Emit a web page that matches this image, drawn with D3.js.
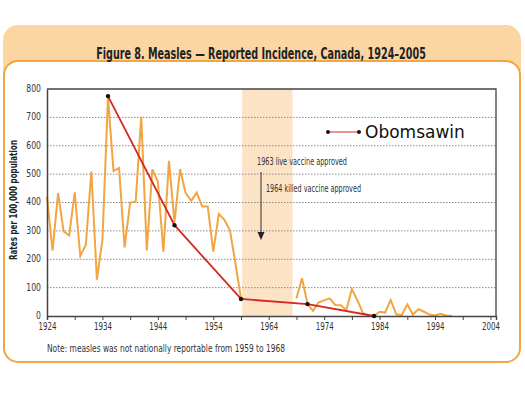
<!DOCTYPE html>
<html>
<head>
<meta charset="utf-8">
<script src="https://cdn.jsdelivr.net/npm/d3@7"></script>
<style>
  body { margin: 0; background: #fff; }
  svg { display: block; }
  .narrow { font-family: "Liberation Sans Narrow", "DejaVu Sans Condensed", "Arial Narrow", sans-serif; }
</style>
</head>
<body>
<div id="chart-area"></div>
<script>
var width = 525,
	height = 393;

// measles rates per 100,000, reportable years only
var years1 = [1924,1925,1926,1927,1928,1929,1930,1931,1932,1933,1934,1935,1936,1937,1938,1939,1940,
	1941,1942,1943,1944,1945,1946,1947,1948,1949,1950,1951,1952,1953,1954,1955,1956,1957,1958,1959];
var rates1 = [421,230,433,298,284,436,212,250,509,128,268,770,511,521,242,400,403,
	703,231,517,474,227,547,330,518,434,406,435,386,386,227,360,339,302,185,62];

var years2 = [1969,1970,1971,1972,1973,1974,1975,1976,1977,1978,1979,1980,1981,1982,1983,1984,1985,
	1986,1987,1988,1989,1990,1991,1992,1993,1994,1995,1996,1997];
var rates2 = [62,133,42,18,48,55,62,39,38,21,95,55,10,2,0,15,12,
	56,6,3,41,5,24,15,5,2,8,2,1];

// Obomsawin series
var obYears = [1935,1947,1959,1971,1983];
var obRates = [775,320,60,42,0];

var yTicks = [0,100,200,300,400,500,600,700,800];
var xTickYears = d3.range(1924, 2005, 5);
var xLabelYears = [1924,1934,1944,1954,1964,1974,1984,1994,2004];
var gapYears = [1959.2, 1968.3];

var margin = {top: 89, right: 29, bottom: 77, left: 47};

var svg = d3.select("#chart-area").append("svg")
	.attr("width", width)
	.attr("height", height);

var orange = "#f2a540";
var fontNarrow = "Liberation Sans Narrow, DejaVu Sans Condensed, sans-serif";

// squeeze a text to the width it has in the picture
function fit(sel, w) {
	sel.attr("textLength", w).attr("lengthAdjust", "spacingAndGlyphs");
}

// frame
svg.append("rect")
	.attr("x", 3).attr("y", 25)
	.attr("width", 518).attr("height", 60)
	.attr("rx", 15)
	.attr("fill", "#fcd6a2");

svg.append("rect")
	.attr("x", 4).attr("y", 61)
	.attr("width", 516).attr("height", 301)
	.attr("rx", 14)
	.attr("fill", "#fff")
	.attr("stroke", orange)
	.attr("stroke-width", 2);

// title, squeezed horizontally
var title = svg.append("text")
	.attr("class", "narrow")
	.attr("x", 0).attr("y", 0)
	.attr("text-anchor", "middle")
	.attr("font-size", 16)
	.attr("font-weight", "bold")
	.attr("fill", "#222")
	.text("Figure 8. Measles \u2014 Reported Incidence, Canada, 1924\u20132005");
var tw = title.node().getComputedTextLength();
title.attr("transform", "translate(261,59) scale(" + (330 / tw) + ",1)");

var x = d3.scaleLinear()
	.domain([1924, 2005])
	.range([margin.left, width - margin.right]);

var y = d3.scaleLinear()
	.domain([0, 800])
	.range([height - margin.bottom, margin.top]);

// not reportable band
svg.append("rect")
	.attr("x", x(gapYears[0]))
	.attr("y", y(800))
	.attr("width", x(gapYears[1]) - x(gapYears[0]))
	.attr("height", y(0) - y(800))
	.attr("fill", "#fde3c6");

// dotted grid
svg.selectAll(".grid")
	.data(yTicks.filter(function(d){ return d > 0 && d < 800; }))
	.enter().append("line")
	.attr("class", "grid")
	.attr("x1", x(1924)).attr("x2", x(2005))
	.attr("y1", function(d){ return y(d); })
	.attr("y2", function(d){ return y(d); })
	.attr("stroke", "#8a8a8a")
	.attr("stroke-width", 1)
	.attr("stroke-dasharray", "1.5,1.5");

// top and right border
svg.append("path")
	.attr("d", "M" + x(1924) + "," + y(800) + "H" + x(2005) + "V" + y(0))
	.attr("fill", "none")
	.attr("stroke", "#444")
	.attr("stroke-width", 1.3);

var line = d3.line()
	.x(function(d){ return x(d[0]); })
	.y(function(d){ return y(d[1]); });

svg.append("path")
	.datum(d3.zip(years1, rates1))
	.attr("d", line)
	.attr("fill", "none")
	.attr("stroke", orange)
	.attr("stroke-width", 2);

svg.append("path")
	.datum(d3.zip(years2, rates2))
	.attr("d", line)
	.attr("fill", "none")
	.attr("stroke", orange)
	.attr("stroke-width", 2);

// axes
var xAxis = d3.axisBottom(x)
	.tickValues(xTickYears)
	.tickSize(4)
	.tickPadding(3)
	.tickFormat(function(d){ return xLabelYears.indexOf(d) >= 0 ? d : ""; });

var gx = svg.append("g")
	.attr("transform", "translate(0," + y(0) + ")")
	.call(xAxis);
gx.select(".domain").attr("stroke", "#444").attr("stroke-width", 1.5);
gx.selectAll(".tick line").attr("stroke", "#444");
gx.selectAll("text")
	.attr("font-size", 10.5)
	.attr("fill", "#333")
	.attr("font-family", fontNarrow)
	.filter(function(d){ return xLabelYears.indexOf(d) >= 0; })
	.call(fit, 18);

var yAxis = d3.axisLeft(y)
	.tickValues(yTicks)
	.tickSize(0)
	.tickPadding(6);

var gy = svg.append("g")
	.attr("transform", "translate(" + x(1924) + ",-1)")
	.call(yAxis);
gy.select(".domain").attr("stroke", "#444").attr("stroke-width", 1.5).attr("transform", "translate(0,1)");
gy.selectAll("text")
	.attr("font-size", 10.5)
	.attr("fill", "#333")
	.attr("font-family", fontNarrow)
	.each(function(d){
		d3.select(this).call(fit, String(d).length * 4.9);
	});

svg.append("text")
	.attr("class", "narrow")
	.attr("transform", "translate(17,200) rotate(-90)")
	.attr("text-anchor", "middle")
	.attr("font-size", 11)
	.attr("font-weight", "bold")
	.attr("fill", "#222")
	.text("Rates per 100,000 population")
	.call(fit, 120);

// Obomsawin line
svg.append("path")
	.datum(d3.zip(obYears, obRates))
	.attr("d", line)
	.attr("fill", "none")
	.attr("stroke", "#d42a1e")
	.attr("stroke-width", 1.8);

svg.selectAll(".ob")
	.data(d3.zip(obYears, obRates))
	.enter().append("circle")
	.attr("class", "ob")
	.attr("cx", function(d){ return x(d[0]); })
	.attr("cy", function(d){ return y(d[1]); })
	.attr("r", 2.2)
	.attr("fill", "#111");

// annotations
svg.append("text")
	.attr("class", "narrow")
	.attr("x", 257).attr("y", 165)
	.attr("font-size", 10.5)
	.attr("fill", "#333")
	.text("1963 live vaccine approved")
	.call(fit, 90);

svg.append("text")
	.attr("class", "narrow")
	.attr("x", 266).attr("y", 192)
	.attr("font-size", 10.5)
	.attr("fill", "#333")
	.text("1964 killed vaccine approved")
	.call(fit, 95);

svg.append("line")
	.attr("x1", 261).attr("x2", 261)
	.attr("y1", 172).attr("y2", 233)
	.attr("stroke", "#333")
	.attr("stroke-width", 1);

svg.append("path")
	.attr("d", "M257.5,232 L264.5,232 L261,240 Z")
	.attr("fill", "#222");

// legend
var lg = svg.append("g").attr("transform", "translate(328,132)");
lg.append("line")
	.attr("x1", 0).attr("x2", 31)
	.attr("stroke", "#d42a1e")
	.attr("stroke-width", 1);
lg.selectAll("circle")
	.data([0, 31])
	.enter().append("circle")
	.attr("cx", function(d){ return d; })
	.attr("r", 2)
	.attr("fill", "#111");
lg.append("text")
	.attr("x", 37).attr("y", 6)
	.attr("font-family", "DejaVu Sans, sans-serif")
	.attr("font-size", 17)
	.attr("fill", "#111")
	.text("Obomsawin");

svg.append("text")
	.attr("class", "narrow")
	.attr("x", 47).attr("y", 352)
	.attr("font-size", 11)
	.attr("fill", "#333")
	.text("Note: measles was not nationally reportable from 1959 to 1968")
	.call(fit, 238);
</script>
</body>
</html>
